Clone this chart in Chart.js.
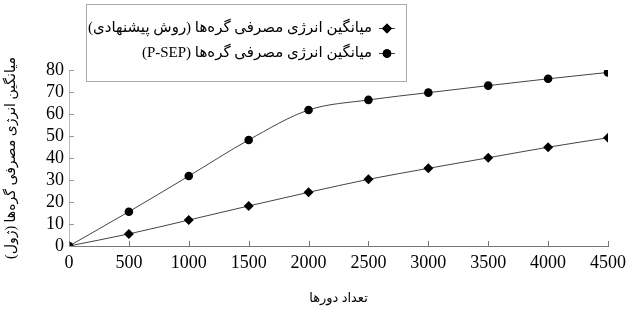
<!DOCTYPE html>
<html>
<head>
<meta charset="utf-8">
<script src="https://cdn.jsdelivr.net/npm/chart.js@4.4.1/dist/chart.umd.min.js"></script>
<style>
html,body{margin:0;padding:0;background:#fff;}
#wrap{width:632px;height:313px;position:relative;}
</style>
</head>
<body>
<div id="wrap"><canvas id="c" width="632" height="313"></canvas></div>
<script>
const rounds = [0, 500, 1000, 1500, 2000, 2500, 3000, 3500, 4000, 4500];
const proposedEnergy = [0, 5.5, 11.8, 18.2, 24.4, 30.3, 35.3, 40.1, 44.9, 49.2];
const psepEnergy = [0, 15.6, 31.8, 48.2, 61.8, 66.4, 69.7, 72.9, 76.0, 78.9];
const seriesLabels = [
  'میانگین انرژی مصرفی گره‌ها (روش پیشنهادی)',
  'میانگین انرژی مصرفی گره‌ها (P-SEP)'
];
const xTitle = 'تعداد دورها';
const yTitle = 'میانگین انرژی مصرفی گره‌ها (ژول)';
const xTicks = [0, 500, 1000, 1500, 2000, 2500, 3000, 3500, 4000, 4500];
const yTicks = [0, 10, 20, 30, 40, 50, 60, 70, 80];

const serif = "'Liberation Serif', 'DejaVu Serif', serif";
const arabicFont = "'Liberation Serif', 'DejaVu Sans', sans-serif";

const insideTicks = {
  id: 'insideTicks',
  afterDraw(chart) {
    const ctx = chart.ctx;
    const xs = chart.scales.x, ys = chart.scales.y;
    const a = chart.chartArea;
    ctx.save();
    ctx.lineWidth = 1;
    ctx.strokeStyle = '#777';
    xs.ticks.forEach((t, i) => {
      const px = Math.round(xs.getPixelForTick(i)) + 0.5;
      ctx.beginPath(); ctx.moveTo(px, a.bottom); ctx.lineTo(px, a.bottom - 5); ctx.stroke();
    });
    ctx.strokeStyle = '#999';
    ys.ticks.forEach((t, i) => {
      const py = Math.round(ys.getPixelForTick(i)) + 0.5;
      ctx.beginPath(); ctx.moveTo(a.left, py); ctx.lineTo(a.left + 5, py); ctx.stroke();
    });
    ctx.restore();
  }
};

const boxLegend = {
  id: 'boxLegend',
  afterDraw(chart) {
    const ctx = chart.ctx;
    const bx = 86, by = 4, bw = 320, bh = 77;
    ctx.save();
    ctx.fillStyle = '#fff';
    ctx.fillRect(bx, by, bw, bh);
    ctx.strokeStyle = '#aaa';
    ctx.lineWidth = 1;
    ctx.strokeRect(bx + 0.5, by + 0.5, bw, bh);
    chart.data.datasets.forEach((ds, i) => {
      const y = 28 + i * 25;
      ctx.strokeStyle = '#444';
      ctx.lineWidth = 1;
      ctx.beginPath(); ctx.moveTo(379, y + 0.5); ctx.lineTo(395, y + 0.5); ctx.stroke();
      ctx.fillStyle = '#000';
      Chart.helpers.drawPoint(ctx, {pointStyle: ds.pointStyle, radius: ds.pointRadius, borderWidth: 0, rotation: 0}, 387, y + 0.5);
      ctx.fill();
      ctx.direction = 'rtl';
      ctx.textAlign = 'right';
      ctx.textBaseline = 'middle';
      ctx.font = "15px " + arabicFont;
      ctx.fillStyle = '#000';
      ctx.fillText(ds.label, 372, y);
    });
    ctx.restore();
  }
};

new Chart(document.getElementById('c'), {
  type: 'line',
  data: {
    datasets: [
      {
        label: seriesLabels[0],
        data: rounds.map((r, i) => ({x: r, y: proposedEnergy[i]})),
        borderColor: '#444',
        borderWidth: 1,
        pointStyle: 'rectRot',
        pointRadius: 5,
        pointBackgroundColor: '#000',
        pointBorderColor: '#000',
        pointBorderWidth: 0,
        cubicInterpolationMode: 'monotone'
      },
      {
        label: seriesLabels[1],
        data: rounds.map((r, i) => ({x: r, y: psepEnergy[i]})),
        borderColor: '#444',
        borderWidth: 1,
        pointStyle: 'circle',
        pointRadius: 4.3,
        pointBackgroundColor: '#000',
        pointBorderColor: '#000',
        pointBorderWidth: 0,
        cubicInterpolationMode: 'monotone'
      }
    ]
  },
  options: {
    responsive: false,
    animation: false,
    devicePixelRatio: 1,
    layout: {padding: {top: 70, right: 23, left: 0, bottom: 0}},
    plugins: {legend: {display: false}, tooltip: {enabled: false}},
    scales: {
      x: {
        type: 'linear',
        min: 0, max: 4500,
        afterBuildTicks(s) { s.ticks = xTicks.map(v => ({value: v})); },
        afterFit(s) { s.height = 67; },
        grid: {display: true, drawOnChartArea: false, drawTicks: false},
        border: {display: true, color: '#777', width: 1},
        ticks: {
          color: '#000', padding: 6, maxRotation: 0, autoSkip: false,
          font: {family: serif, size: 18},
          callback: v => String(v)
        },
        title: {
          display: true, text: xTitle, color: '#000',
          font: {family: arabicFont, size: 13},
          padding: {top: 0, bottom: 7}
        }
      },
      y: {
        min: 0, max: 80,
        afterBuildTicks(s) { s.ticks = yTicks.map(v => ({value: v})); },
        afterFit(s) { s.width = 69; },
        grid: {display: true, drawOnChartArea: false, drawTicks: false},
        border: {display: true, color: '#bbb', width: 1},
        ticks: {
          color: '#000', padding: 5, autoSkip: false,
          font: {family: serif, size: 18},
          callback: v => String(v)
        },
        title: {
          display: true, text: yTitle, color: '#000',
          font: {family: arabicFont, size: 14},
          padding: {top: 3, bottom: 0}
        }
      }
    }
  },
  plugins: [insideTicks, boxLegend]
});
</script>
</body>
</html>
